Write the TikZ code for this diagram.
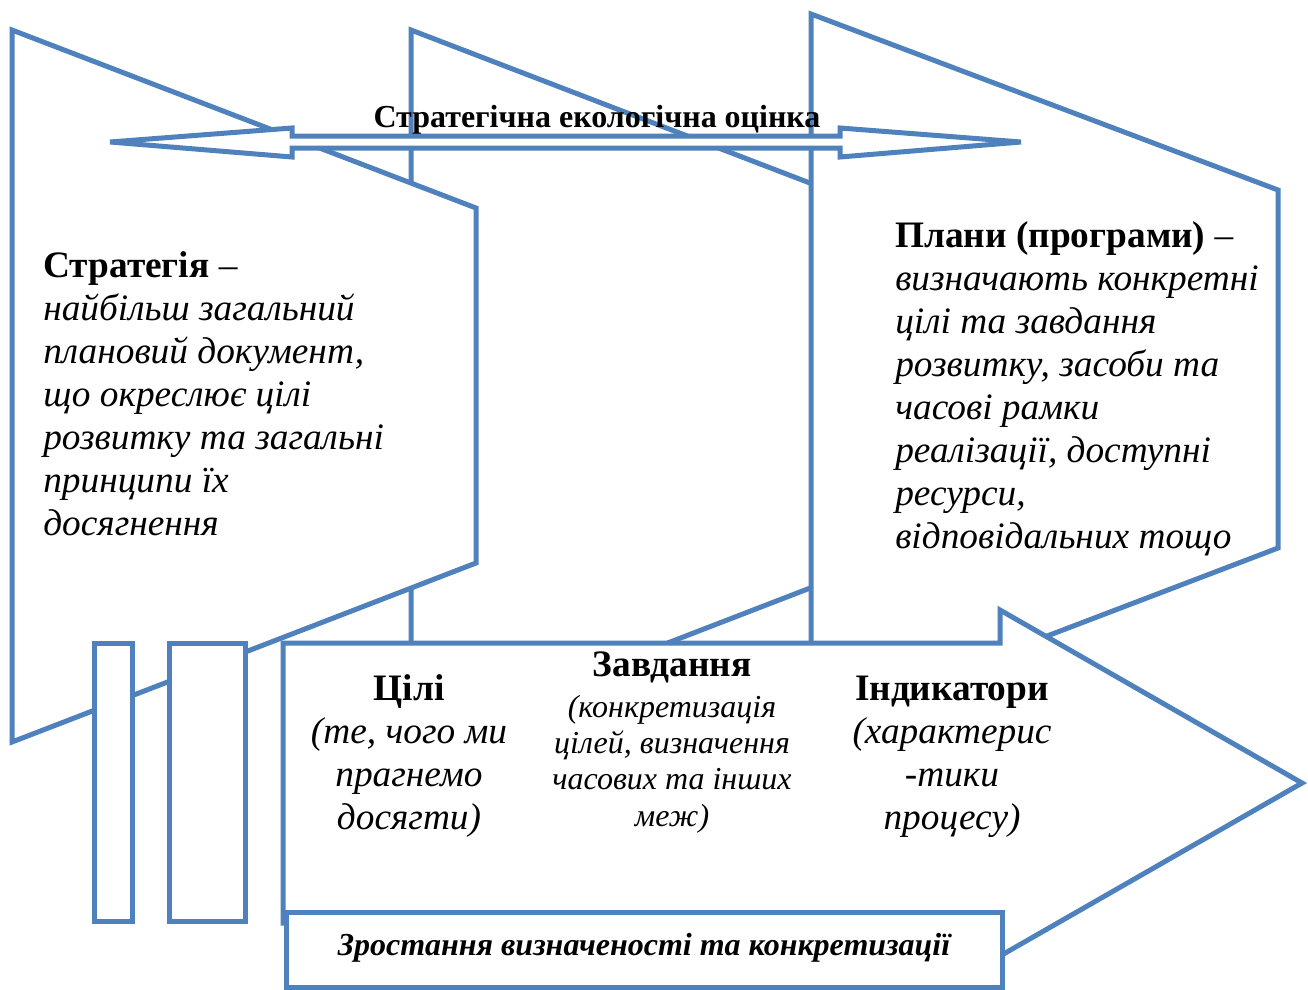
\documentclass[tikz,border=0pt]{standalone}
\usepackage{fontspec}
\setmainfont{Liberation Serif}
\definecolor{officeblue}{RGB}{79,129,189}
\newcommand{\headtxt}[1]{{\upshape\bfseries #1}}

\begin{document}
\begin{tikzpicture}[x=0.75pt, y=-0.75pt,
  panel/.style={draw=officeblue, line width=3.75pt, fill=white},
  txt/.style={inner sep=0pt, font=\itshape\fontsize{28}{32.3}\selectfont},
  smalltxt/.style={inner sep=0pt, font=\itshape\fontsize{24}{27.3}\selectfont}]
 \useasboundingbox (0,0) rectangle (1308,989);
 % document panels, back to front
 \draw [panel] (411,30) -- (875,208) -- (875,563) -- (411,742) -- cycle;
 \draw [panel] (811,14) -- (1278,190) -- (1278,548) -- (811,726) -- cycle;
 \draw [panel] (12,30) -- (476,208) -- (476,563) -- (12,742) -- cycle;
 % process arrow, bars and caption box
 \draw [panel] (283,643) -- (1000,643) -- (1000,610) -- (1302,783)
   -- (1000,956) -- (1000,923) -- (283,923) -- cycle;
 \draw [panel] (94,643) rectangle (132,921);
 \draw [panel] (169,643) rectangle (245,921);
 \draw [panel] (286,912) rectangle (1002,987);
 % double arrow
 \draw [panel] (110,142) -- (292,128) -- (292,136) -- (840,136) -- (840,128)
   -- (1021,142) -- (840,157) -- (840,148) -- (292,148) -- (292,157) -- cycle;

 \node [font=\bfseries\fontsize{24}{28}\selectfont, inner sep=0pt, anchor=base]
   (sea) at (597,127) {Стратегічна екологічна оцінка};
 \node [txt, anchor=north west, align=left] (strategy) at (43,251)
   {\headtxt{Стратегія} \textup{–}\\
    найбільш загальний\\
    плановий документ,\\
    що окреслює цілі\\
    розвитку та загальні\\
    принципи їх\\
    досягнення};
 \node [txt, anchor=north west, align=left] (plans) at (895,221)
   {\headtxt{Плани (програми)} \textup{–}\\
    визначають конкретні\\
    цілі та завдання\\
    розвитку, засоби та\\
    часові рамки\\
    реалізації, доступні\\
    ресурси,\\
    відповідальних тощо};
 \node [txt, anchor=north, align=center] (goals) at (409,674)
   {\headtxt{Цілі}\\ (те, чого ми\\ прагнемо\\ досягти)};
 \node [smalltxt, anchor=north, align=center] (tasks) at (672,651)
   {\headtxt{\fontsize{28}{32.3}\selectfont Завдання}\\[3.5pt]
    (конкретизація\\ цілей, визначення\\ часових та інших\\ меж)};
 \node [txt, anchor=north, align=center] (indicators) at (952,676)
   {\headtxt{Індикатори}\\ (характерис\\ -тики\\ процесу)};
 \node [font=\bfseries\itshape\fontsize{24}{28}\selectfont, inner sep=0pt, anchor=base]
   (growth) at (644,955) {Зростання визначеності та конкретизації};
\end{tikzpicture}
\end{document}
